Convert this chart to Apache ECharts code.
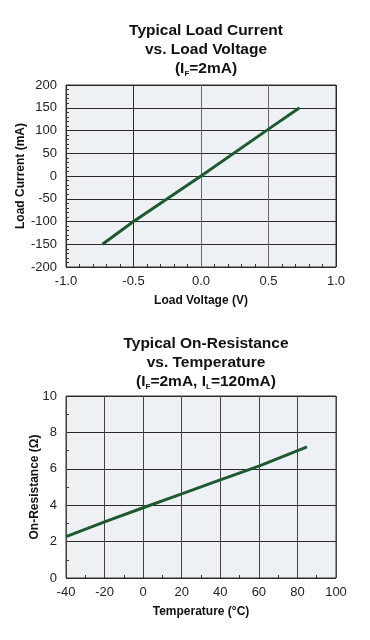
<!DOCTYPE html>
<html><head><meta charset="utf-8">
<script src="https://cdn.jsdelivr.net/npm/echarts@6/dist/echarts.min.js"></script>
<style>html,body{margin:0;padding:0;background:#fff}#c{width:370px;height:640px}</style>
</head><body><div id="c"></div>
<script>
// Chart 1: Typical Load Current vs. Load Voltage
const voltage = [-0.73, -0.5, 0, 0.5, 0.73];
const loadCurrent = [-150, -100, 0, 103, 150];
// Chart 2: Typical On-Resistance vs. Temperature
const temperature = [-40, -20, 0, 20, 40, 60, 85];
const onResistance = [2.27, 3.08, 3.86, 4.62, 5.39, 6.15, 7.2];

const FONT = '"Liberation Sans", Arial, Helvetica, sans-serif';
const lineColor = '#1d5a32';
const gridBg = '#eef1f3';

const chart = echarts.init(document.getElementById('c'));
const titleRich = {
  b: {fontFamily: FONT, fontWeight: 'bold', fontSize: 15.5, color: '#111', lineHeight: 19},
  s: {fontFamily: FONT, fontWeight: 'bold', fontSize: 8, color: '#111', lineHeight: 10, verticalAlign: 'bottom'}
};
function axisBase(extra) {
  return Object.assign({
    type: 'value',
    axisLine: {show: false, onZero: false},
    axisTick: {show: false, inside: true},
    splitLine: {show: true, lineStyle: {color: '#2a2a2a', width: 1}},
    nameTextStyle: {fontFamily: FONT, fontSize: 12, fontWeight: 'bold', color: '#111'},
    nameLocation: 'middle',
    nameMoveOverlap: false
  }, extra);
}
const lbl = (margin, fmt) => ({fontFamily: FONT, fontSize: 13, color: '#222', margin: margin, formatter: fmt});
const minor = n => ({show: true, splitNumber: n, length: 3, lineStyle: {color: '#333', width: 1}});

const option = {
  animation: false,
  title: [
    {text: '{b|Typical Load Current}\n{b|vs. Load Voltage}\n{b|(I}{s|F}{b|=2mA)}', left: 201, top: 16, textAlign: 'center',
     textStyle: {rich: titleRich}},
    {text: '{b|Typical On-Resistance}\n{b|vs. Temperature}\n{b|(I}{s|F}{b|=2mA, I}{s|L}{b|=120mA)}', left: 201, top: 329, textAlign: 'center',
     textStyle: {rich: titleRich}}
  ],
  grid: [
    {left: 66, right: 34, top: 85, height: 182, show: true, backgroundColor: gridBg, borderColor: '#333', borderWidth: 1},
    {left: 66, right: 34, top: 396, height: 182, show: true, backgroundColor: gridBg, borderColor: '#333', borderWidth: 1}
  ],
  xAxis: [
    axisBase({gridIndex: 0, min: -1, max: 1, interval: 0.5, minorTick: minor(5),
      splitLine: {show: true, lineStyle: {color: ['#2a2a2a', '#2a2a2a', '#6a6a6a', '#6a6a6a', '#2a2a2a'], width: 1}},
      axisLabel: lbl(8, v => v.toFixed(1)),
      name: 'Load Voltage (V)', nameGap: 28}),
    axisBase({gridIndex: 1, min: -40, max: 100, interval: 20, minorTick: minor(2),
      splitLine: {show: true, lineStyle: {color: '#444', width: 1}},
      axisLabel: lbl(8),
      name: 'Temperature (°C)', nameGap: 28})
  ],
  yAxis: [
    axisBase({gridIndex: 0, min: -200, max: 200, interval: 50, minorTick: minor(5),
      axisLabel: lbl(9),
      name: 'Load Current (mA)', nameGap: 39}),
    axisBase({gridIndex: 1, min: 0, max: 10, interval: 2, minorTick: minor(2),
      axisLabel: lbl(9),
      name: 'On-Resistance (Ω)', nameGap: 25})
  ],
  series: [
    {type: 'line', xAxisIndex: 0, yAxisIndex: 0, data: voltage.map((v, i) => [v, loadCurrent[i]]), showSymbol: false, lineStyle: {color: lineColor, width: 3}, silent: true},
    {type: 'line', xAxisIndex: 1, yAxisIndex: 1, data: temperature.map((t, i) => [t, onResistance[i]]), showSymbol: false, lineStyle: {color: lineColor, width: 3}, silent: true}
  ]
};
chart.setOption(option);
</script></body></html>
